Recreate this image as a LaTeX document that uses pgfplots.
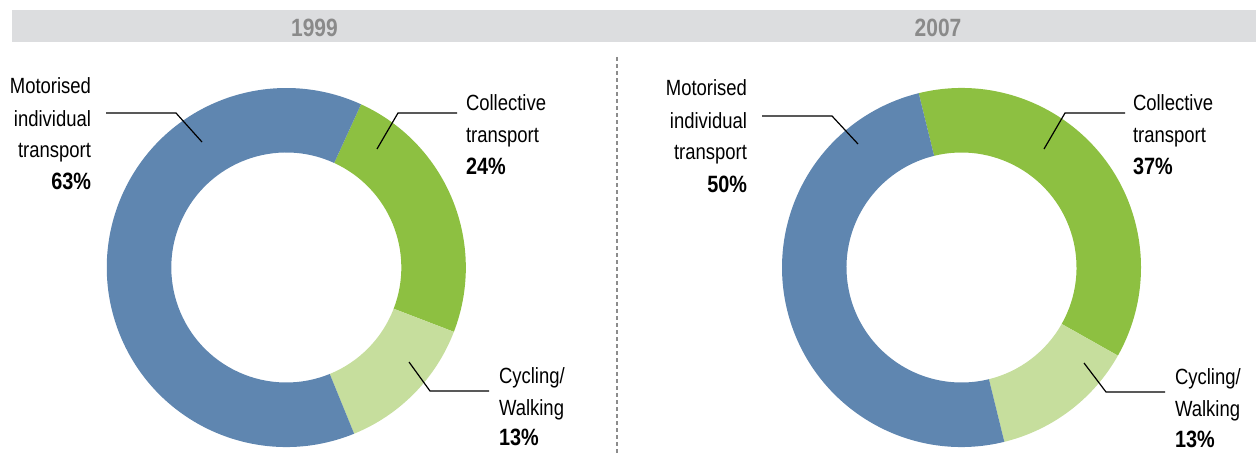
\documentclass[border=0pt]{standalone}
\usepackage{pgfplots}
\pgfplotsset{compat=1.18}
\usepackage{pgfplotstable}
\usepackage{fontspec}
\setmainfont[FakeStretch=0.84]{Liberation Sans}
\definecolor{mit}{HTML}{5F86B0}
\definecolor{ct}{HTML}{8DC041}
\definecolor{cw}{HTML}{C6DE9D}
\definecolor{hdr}{HTML}{DCDDDF}
\definecolor{yr}{HTML}{8A8A8A}
\definecolor{sep}{HTML}{8C8C8C}

% shares (%) in drawing order: collective, cycling/walking, motorised
\pgfplotstableread{
cat value
Collective 24
Cycling 13
Motorised 63
}\tabA
\pgfplotstableread{
cat value
Collective 37
Cycling 13
Motorised 50
}\tabB

\newcommand\lab{\fontsize{11bp}{12bp}\selectfont}
\newcommand\pct{\fontsize{11.8bp}{13bp}\selectfont\bfseries}
\def\Ro{89.75bp}
\def\Ri{57.5bp}
\def\Rd{32.25bp}
% annular wedge: center x, center y, start angle, end angle, colour
\newcommand\donutwedge[5]{%
  \fill[#5] (axis cs:#1,#2) ++(#3:\Ro) arc[start angle=#3,end angle=#4,radius=\Ro]
    -- ++(#4:-\Rd) arc[start angle=#4,end angle=#3,radius=\Ri] -- cycle;}
\tikzset{L/.style={inner sep=0pt, outer sep=0pt, anchor=base east, font=\lab},
         R/.style={inner sep=0pt, outer sep=0pt, anchor=base west, font=\lab},
         Y/.style={inner sep=0pt, outer sep=0pt, anchor=base, text=yr, font=\fontsize{12.5bp}{14bp}\selectfont\bfseries}}

\begin{document}
\begin{tikzpicture}
\pgfplotstablegetelem{0}{value}\of\tabA \let\aC\pgfplotsretval
\pgfplotstablegetelem{1}{value}\of\tabA \let\aW\pgfplotsretval
\pgfplotstablegetelem{2}{value}\of\tabA \let\aM\pgfplotsretval
\pgfplotstablegetelem{0}{value}\of\tabB \let\bC\pgfplotsretval
\pgfplotstablegetelem{1}{value}\of\tabB \let\bW\pgfplotsretval
\pgfplotstablegetelem{2}{value}\of\tabB \let\bM\pgfplotsretval
\pgfmathsetmacro\aS{65.4}
\pgfmathsetmacro\aP{\aS-3.6*\aC}
\pgfmathsetmacro\aQ{\aP-3.6*\aW}
\pgfmathsetmacro\aR{\aQ-3.6*\aM}
\pgfmathsetmacro\bS{103.8}
\pgfmathsetmacro\bP{\bS-3.6*\bC}
\pgfmathsetmacro\bQ{\bP-3.6*\bW}
\pgfmathsetmacro\bR{\bQ-3.6*\bM}
\begin{axis}[hide axis, x=0.5bp, y=0.5bp, xmin=0, xmax=1257, ymin=0, ymax=454,
  clip=false]
\path (axis cs:0,0) rectangle (axis cs:1257,454);
% header
\fill[hdr] (axis cs:12,412) rectangle (axis cs:1256,444);
\node[Y] at (axis cs:314.5,417.3) {1999};
\node[Y] at (axis cs:938,417.3) {2007};
% separator
\draw[sep, line width=1bp, dash pattern=on 2bp off 1.5bp] (axis cs:617,397) -- (axis cs:617,0);
% donuts
\donutwedge{286.3}{186.5}{\aS}{\aP}{ct}
\donutwedge{286.3}{186.5}{\aP}{\aQ}{cw}
\donutwedge{286.3}{186.5}{\aQ}{\aR}{mit}
\donutwedge{961.5}{186.5}{\bS}{\bP}{ct}
\donutwedge{961.5}{186.5}{\bP}{\bQ}{cw}
\donutwedge{961.5}{186.5}{\bQ}{\bR}{mit}
% leaders
\draw[black, line width=0.6bp] (axis cs:106,341) -- (axis cs:176,341) -- (axis cs:202,312);
\draw[black, line width=0.6bp] (axis cs:377,305) -- (axis cs:398,341) -- (axis cs:457,341);
\draw[black, line width=0.6bp] (axis cs:409,92) -- (axis cs:430,63) -- (axis cs:489,63);
\draw[black, line width=0.6bp] (axis cs:762,338) -- (axis cs:832,338) -- (axis cs:858,310);
\draw[black, line width=0.6bp] (axis cs:1044,305) -- (axis cs:1065,341) -- (axis cs:1125,341);
\draw[black, line width=0.6bp] (axis cs:1084,91) -- (axis cs:1106,62) -- (axis cs:1165,62);
% labels 1999
\node[L] at (axis cs:91,360) {Motorised};
\node[L] at (axis cs:91,328) {individual};
\node[L] at (axis cs:91,297) {transport};
\node[L, font=\pct] at (axis cs:91,265) {\aM\%};
\node[R] at (axis cs:466,343.3) {Collective};
\node[R] at (axis cs:466,312) {transport};
\node[R, font=\pct] at (axis cs:466,280) {\aC\%};
\node[R] at (axis cs:499,71) {Cycling/};
\node[R] at (axis cs:499,39) {Walking};
\node[R, font=\pct] at (axis cs:499,9) {\aW\%};
% labels 2007
\node[L] at (axis cs:747,358) {Motorised};
\node[L] at (axis cs:747,326) {individual};
\node[L] at (axis cs:747,295) {transport};
\node[L, font=\pct] at (axis cs:747,262) {\bM\%};
\node[R] at (axis cs:1133,343.3) {Collective};
\node[R] at (axis cs:1133,312) {transport};
\node[R, font=\pct] at (axis cs:1133,280) {\bC\%};
\node[R] at (axis cs:1175,70) {Cycling/};
\node[R] at (axis cs:1175,38) {Walking};
\node[R, font=\pct] at (axis cs:1175,7) {\bW\%};
\end{axis}
\end{tikzpicture}
\end{document}
